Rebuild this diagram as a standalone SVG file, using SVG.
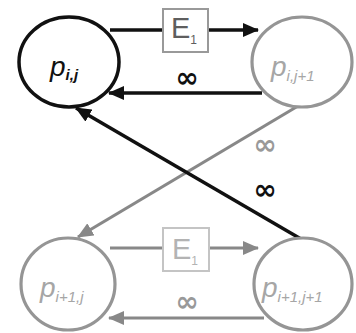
<svg xmlns="http://www.w3.org/2000/svg" width="356" height="333" viewBox="0 0 356 333">
  <defs>
    <marker id="headDark" markerUnits="userSpaceOnUse" markerWidth="16" markerHeight="14" refX="15" refY="7" orient="auto">
      <path d="M0,0 L16,7 L0,14 Z" fill="#111"/>
    </marker>
    <marker id="headGray" markerUnits="userSpaceOnUse" markerWidth="16" markerHeight="14" refX="15" refY="7" orient="auto">
      <path d="M0,0 L16,7 L0,14 Z" fill="#888"/>
    </marker>
  </defs>
  <style>
    .node-dark { fill: #fff; stroke: #111; stroke-width: 3.5; }
    .node-gray { fill: #fff; stroke: #959595; stroke-width: 3.2; }
    .lbl { font-family: "Liberation Sans", Arial, sans-serif; font-style: italic; }
    .lbl-dark { fill: #111; }
    .lbl-gray { fill: #a6a6a6; }
    .main { font-size: 28px; }
    .sub { font-size: 15px; }
    .edge-dark { stroke: #111; stroke-width: 3.5; fill: none; }
    .edge-gray { stroke: #888; stroke-width: 3.2; fill: none; }
    .inf { font-family: "DejaVu Sans", sans-serif; font-weight: bold; font-size: 28px; text-anchor: middle; }
    .box-dark { fill: #fff; stroke: #999; stroke-width: 2; }
    .box-gray { fill: #fff; stroke: #c4c4c4; stroke-width: 2; }
    .cost { font-family: "Liberation Sans", Arial, sans-serif; }
  </style>

  <!-- connectors -->
  <g id="connectors">
    <!-- top row -->
    <line class="edge-dark" x1="110" y1="30" x2="163" y2="30"/>
    <line class="edge-dark" x1="208" y1="30" x2="258" y2="30" marker-end="url(#headDark)"/>
    <line class="edge-dark" x1="262" y1="93" x2="109" y2="93" marker-end="url(#headDark)"/>
    <text class="inf" x="187" y="87" fill="#111">∞</text>

    <!-- cross connectors -->
    <line class="edge-gray" x1="298" y1="106" x2="78" y2="237" marker-end="url(#headGray)"/>
    <text class="inf" x="265" y="154" fill="#999">∞</text>
    <line class="edge-dark" x1="301" y1="239" x2="76" y2="108" marker-end="url(#headDark)"/>
    <text class="inf" x="265" y="199" fill="#111">∞</text>

    <!-- bottom row -->
    <line class="edge-gray" x1="110" y1="248" x2="163" y2="248"/>
    <line class="edge-gray" x1="209" y1="248" x2="258" y2="248" marker-end="url(#headGray)"/>
    <line class="edge-gray" x1="264" y1="318" x2="109" y2="318" marker-end="url(#headGray)"/>
    <text class="inf" x="187" y="311" fill="#999">∞</text>
  </g>

  <!-- cost boxes -->
  <g id="cost-top">
    <rect class="box-dark" x="163" y="9" width="45" height="43"/>
    <text class="cost" x="171" y="38" font-size="29" fill="#5e5e5e">E<tspan font-size="12" dy="6">1</tspan></text>
  </g>
  <g id="cost-bottom">
    <rect class="box-gray" x="163" y="228" width="46" height="43"/>
    <text class="cost" x="172" y="259" font-size="29" fill="#b3b3b3">E<tspan font-size="12" dy="6">1</tspan></text>
  </g>

  <!-- nodes -->
  <g id="p-i-j">
    <ellipse class="node-dark" cx="69" cy="62" rx="50" ry="45"/>
    <text class="lbl lbl-dark" x="50" y="76"><tspan class="main">p</tspan><tspan class="sub" font-weight="bold" dy="4">i,j</tspan></text>
  </g>
  <g id="p-i-j1">
    <ellipse class="node-gray" cx="302" cy="62" rx="50" ry="45"/>
    <text class="lbl lbl-gray" x="271" y="76"><tspan class="main">p</tspan><tspan class="sub" dy="5">i,j+1</tspan></text>
  </g>
  <g id="p-i1-j">
    <ellipse class="node-gray" cx="68" cy="284" rx="47" ry="46"/>
    <text class="lbl lbl-gray" x="40" y="297"><tspan class="main">p</tspan><tspan class="sub" dy="5">i+1,j</tspan></text>
  </g>
  <g id="p-i1-j1">
    <ellipse class="node-gray" cx="303" cy="284" rx="49" ry="46"/>
    <text class="lbl lbl-gray" x="262" y="297"><tspan class="main">p</tspan><tspan class="sub" dy="5">i+1,j+1</tspan></text>
  </g>
</svg>
